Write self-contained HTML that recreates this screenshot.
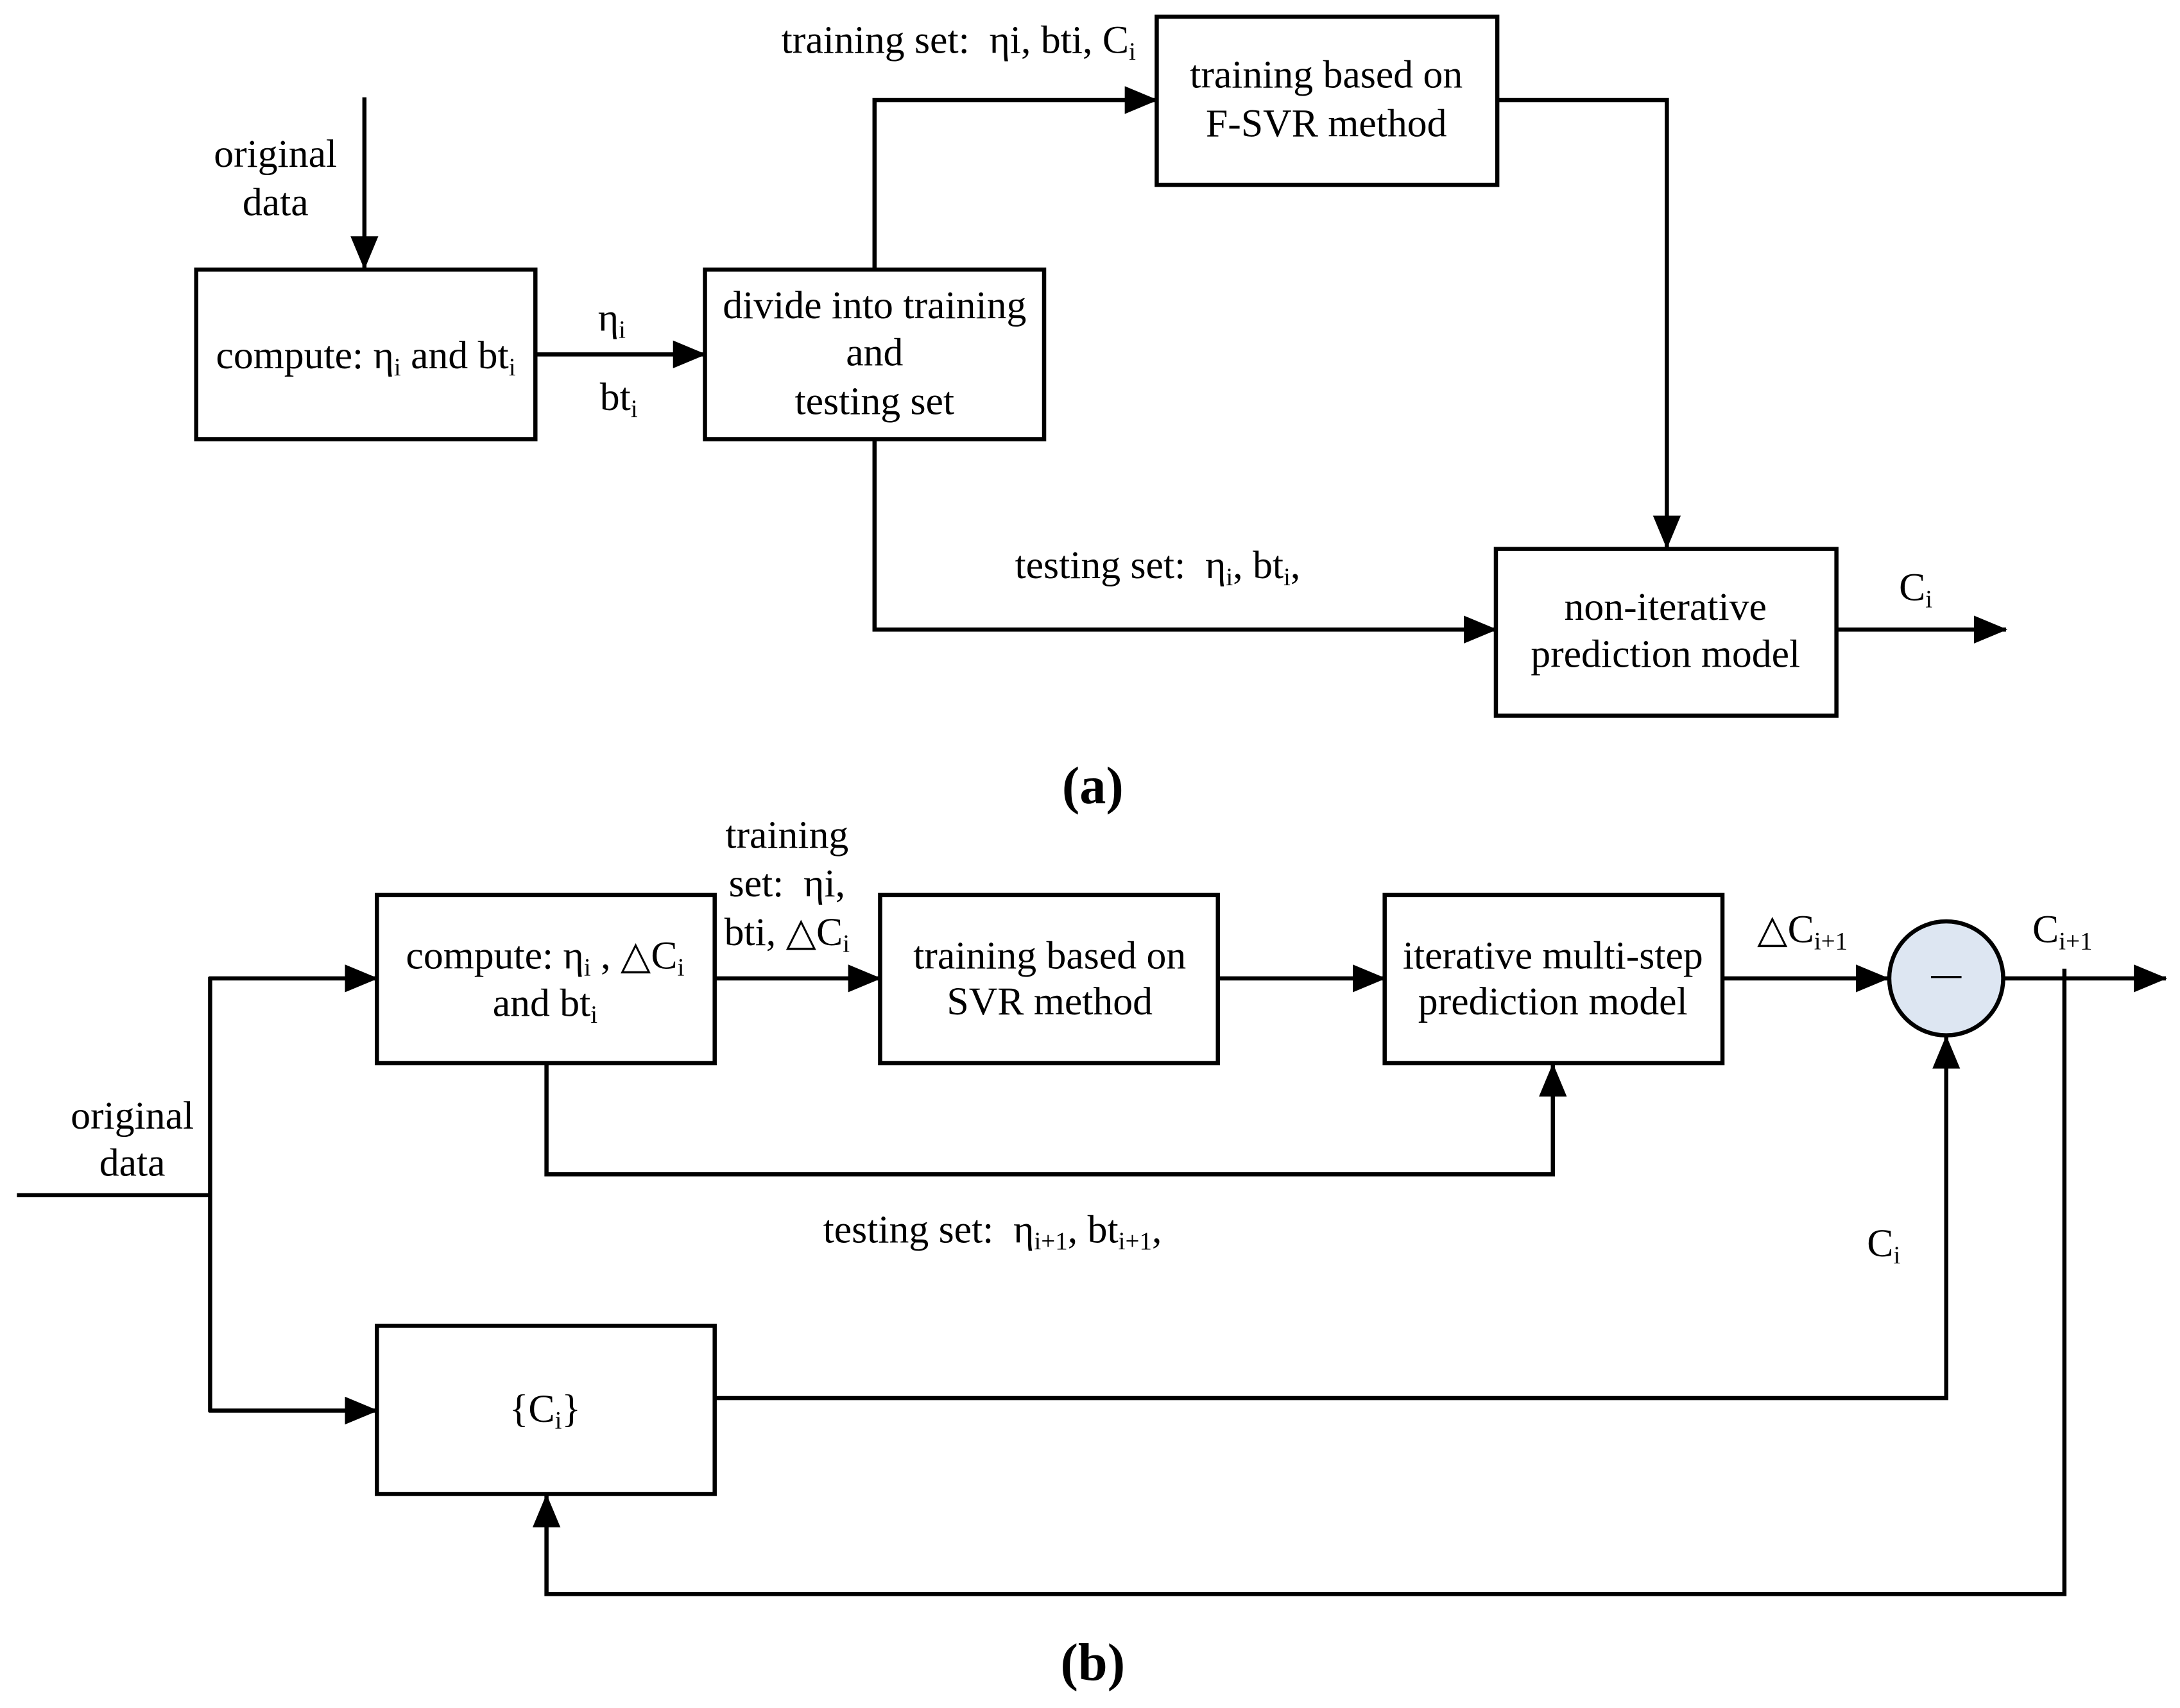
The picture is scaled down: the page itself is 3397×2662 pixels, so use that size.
<!DOCTYPE html>
<html><head><meta charset="utf-8"><style>html,body{margin:0;padding:0;background:#fff}svg{display:block}</style></head>
<body>
<svg width="3397" height="2662" viewBox="0 0 1568 1229" xmlns="http://www.w3.org/2000/svg" font-family="'Liberation Serif', serif" font-size="28.5" fill="#000">
<defs>
<marker id="a" markerUnits="userSpaceOnUse" markerWidth="24" markerHeight="22" refX="23" refY="10" orient="auto"><path d="M0,0 L24,10 L0,20 Z" fill="#000"/></marker>
</defs>
<g stroke="#000" stroke-width="3" fill="none">
<line x1="262" y1="70" x2="262" y2="193" marker-end="url(#a)"/>
<rect x="141" y="194" width="244" height="122"/>
<line x1="385" y1="255" x2="507" y2="255" marker-end="url(#a)"/>
<rect x="507" y="194" width="244" height="122"/>
<polyline points="629,194 629,72 832,72" marker-end="url(#a)"/>
<rect x="832" y="12" width="245" height="121"/>
<polyline points="1077,72 1199,72 1199,394" marker-end="url(#a)"/>
<polyline points="629,316 629,453 1076,453" marker-end="url(#a)"/>
<rect x="1076" y="395" width="245" height="120"/>
<line x1="1321" y1="453" x2="1443" y2="453" marker-end="url(#a)"/>
<rect x="271" y="644" width="243" height="121"/>
<line x1="514" y1="704" x2="633" y2="704" marker-end="url(#a)"/>
<rect x="633" y="644" width="243" height="121"/>
<line x1="876" y1="704" x2="996" y2="704" marker-end="url(#a)"/>
<rect x="996" y="644" width="243" height="121"/>
<line x1="1239" y1="704" x2="1358" y2="704" marker-end="url(#a)"/>
<circle cx="1400" cy="704" r="41" fill="#dde6f2"/>
<line x1="1441" y1="704" x2="1558" y2="704" marker-end="url(#a)"/>
<polyline points="1485,697 1485,1147 393,1147 393,1076" marker-end="url(#a)"/>
<polyline points="393,765 393,845 1117,845 1117,766" marker-end="url(#a)"/>
<line x1="12" y1="860" x2="151" y2="860"/>
<line x1="151" y1="703" x2="151" y2="1016"/>
<line x1="150" y1="704" x2="271" y2="704" marker-end="url(#a)"/>
<line x1="150" y1="1015" x2="271" y2="1015" marker-end="url(#a)"/>
<rect x="271" y="954" width="243" height="121"/>
<polyline points="514,1006 1400,1006 1400,746" marker-end="url(#a)"/>
<line x1="1389" y1="703" x2="1411" y2="703" stroke-width="1.5"/>
</g>
<g text-anchor="middle">
<text x="198" y="120">original</text><text x="198" y="155">data</text>
<text x="263" y="265">compute: η<tspan font-size="18" dy="5">i</tspan><tspan dy="-5"> and bt</tspan><tspan font-size="18" dy="5">i</tspan></text>
<text x="440" y="238">η<tspan font-size="18" dy="5">i</tspan></text>
<text x="445" y="295">bt<tspan font-size="18" dy="5">i</tspan></text>
<text x="629" y="229">divide into training</text><text x="629" y="263">and</text><text x="629" y="298">testing set</text>
<text x="954" y="63">training based on</text><text x="954" y="98">F-SVR method</text>
<text x="1198" y="446">non-iterative</text><text x="1198" y="480">prediction model</text>
<text x="786" y="578" font-size="38" font-weight="bold">(a)</text>
<text x="392" y="697">compute: η<tspan font-size="18" dy="5">i</tspan><tspan dy="-5"> , △C</tspan><tspan font-size="18" dy="5">i</tspan></text>
<text x="392" y="731">and bt<tspan font-size="18" dy="5">i</tspan></text>
<text x="566" y="610">training</text><text x="566" y="645" xml:space="preserve">set:  ηi,</text>
<text x="566" y="680">bti, △C<tspan font-size="18" dy="5">i</tspan></text>
<text x="755" y="697">training based on</text><text x="755" y="730">SVR method</text>
<text x="1117" y="697">iterative multi-step</text><text x="1117" y="730">prediction model</text>
<text x="95" y="812">original</text><text x="95" y="846">data</text>
<text x="392" y="1023">{C<tspan font-size="18" dy="5">i</tspan><tspan dy="-5">}</tspan></text>
<text x="786" y="1209" font-size="38" font-weight="bold">(b)</text>
</g>
<text x="562" y="38" xml:space="preserve">training set:  ηi, bti, C<tspan font-size="18" dy="5">i</tspan></text>
<text x="730" y="416" xml:space="preserve">testing set:  η<tspan font-size="18" dy="5">i</tspan><tspan dy="-5">, bt</tspan><tspan font-size="18" dy="5">i</tspan><tspan dy="-5">,</tspan></text>
<text x="1366" y="432">C<tspan font-size="18" dy="5">i</tspan></text>
<text x="1264" y="678">△C<tspan font-size="18" dy="5">i+1</tspan></text>
<text x="1462" y="678">C<tspan font-size="18" dy="5">i+1</tspan></text>
<text x="592" y="894" xml:space="preserve">testing set:  η<tspan font-size="18" dy="5">i+1</tspan><tspan dy="-5">, bt</tspan><tspan font-size="18" dy="5">i+1</tspan><tspan dy="-5">,</tspan></text>
<text x="1343" y="904">C<tspan font-size="18" dy="5">i</tspan></text>
</svg>
</body></html>
